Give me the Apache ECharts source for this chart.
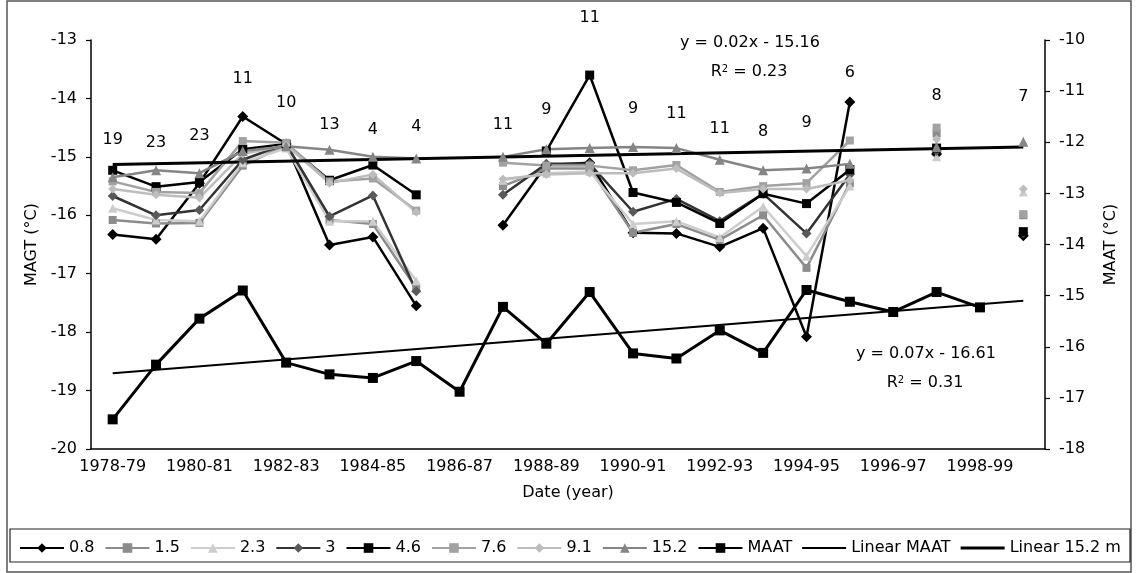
<!DOCTYPE html>
<html>
<head>
<meta charset="utf-8">
<script src="https://cdn.jsdelivr.net/npm/echarts@6/dist/echarts.min.js"></script>
<style>html,body{margin:0;padding:0;background:#fff}#c{width:1138px;height:573px}</style>
</head>
<body>
<div id="c"></div>
<script>
const categories = ['1978-79','1979-80','1980-81','1981-82','1982-83','1983-84','1984-85','1985-86','1986-87','1987-88','1988-89','1989-90','1990-91','1991-92','1992-93','1993-94','1994-95','1995-96','1996-97','1997-98','1998-99','1999-00'];

const d08  = [-16.33,-16.41,-15.45,-14.31,-14.78,-16.51,-16.37,-17.55,null,-16.17,-15.14,-15.10,-16.30,-16.31,-16.54,-16.22,-18.08,-14.06,null,-14.95,null,-16.35];
const d15  = [-16.08,-16.14,-16.13,-15.15,-14.80,-16.08,-16.15,-17.25,null,-15.50,-15.20,-15.20,-16.30,-16.15,-16.42,-16.00,-16.90,-15.45,null,-14.60,null,-16.00];
const d23  = [-15.88,-16.08,-16.10,-15.10,-14.85,-16.10,-16.10,-17.12,null,-15.40,-15.28,-15.25,-16.15,-16.10,-16.38,-15.85,-16.70,-15.50,null,-15.00,null,-15.60];
const d30  = [-15.67,-16.00,-15.91,-15.05,-14.78,-16.02,-15.66,-17.30,null,-15.65,-15.12,-15.12,-15.94,-15.72,-16.10,-15.63,-16.31,-15.30,null,-14.90,null,-16.30];
const d46  = [-15.23,-15.51,-15.43,-14.87,-14.78,-15.40,-15.14,-15.65,null,null,-14.90,-13.60,-15.61,-15.78,-16.14,-15.63,-15.80,-15.22,null,-14.85,null,-16.28];
const d76  = [-15.42,-15.60,-15.62,-14.73,-14.76,-15.42,-15.37,-15.92,null,-15.10,-15.15,-15.15,-15.23,-15.14,-15.60,-15.50,-15.45,-14.72,null,-14.50,null,-15.98];
const d91  = [-15.55,-15.65,-15.70,-14.95,-14.80,-15.45,-15.30,-15.95,null,-15.38,-15.30,-15.28,-15.28,-15.20,-15.62,-15.55,-15.55,-15.40,null,-14.70,null,-15.55];
const d152 = [-15.35,-15.23,-15.28,-14.90,-14.82,-14.88,-15.00,-15.03,null,-15.00,-14.87,-14.85,-14.83,-14.85,-15.05,-15.23,-15.20,-15.12,null,-14.83,null,-14.74];

const maat = [-17.42,-16.35,-15.45,-14.90,-16.31,-16.54,-16.61,-16.28,-16.88,-15.22,-15.94,-14.93,-16.13,-16.23,-15.68,-16.12,-14.89,-15.12,-15.32,-14.93,-15.23,null];

const linearMAAT = [[0,-16.52],[21,-15.10]];
const linear152 = [[0,-15.13],[21,-14.83]];

const nBoreholes = [19,23,23,11,10,13,4,4,null,11,9,11,9,11,11,8,9,6,null,8,null,7];
const nLabelLevel = [-14.71,-14.76,-14.64,-13.67,-14.08,-14.46,-14.54,-14.49,null,-14.46,-14.20,-12.62,-14.18,-14.27,-14.52,-14.57,-14.42,-13.57,null,-13.95,null,-13.98];

const leftTicks = {min:-20,max:-13,interval:1};
const rightTicks = {min:-18,max:-10,interval:1};

const FONT = 'DejaVu Sans';

function depth(name, data, color, symbol, size, lineColor) {
  return {
    name, type:'line', data, yAxisIndex:0, symbol, symbolSize:size,
    connectNulls:false,
    lineStyle:{color: lineColor || color, width:2.5},
    itemStyle:{color, borderWidth:0},
    emphasis:{disabled:true}, animation:false
  };
}

const labelData = [];
nBoreholes.forEach((n,i)=>{ if(n!==null) labelData.push({value:[i,nLabelLevel[i]], n}); });

const lineIcon = 'path://M0,0 L44,0 L44,2 L0,2 Z';
const thickIcon = 'path://M0,0 L44,0 L44,3 L0,3 Z';

const chart = echarts.init(document.getElementById('c'), null, {renderer:'canvas'});
chart.setOption({
  animation:false,
  backgroundColor:'#fff',
  textStyle:{fontFamily:FONT},
  grid:{left:91,right:93,top:40,bottom:124},
  legend:{
    left:14, top:535, itemWidth:44, itemHeight:12, itemGap:10,
    textStyle:{fontFamily:FONT,fontSize:16,color:'#000'},
    data:['0.8','1.5','2.3','3','4.6','7.6','9.1','15.2','MAAT',
          {name:'Linear MAAT', icon:lineIcon},
          {name:'Linear 15.2 m', icon:thickIcon}]
  },
  xAxis:{
    type:'category', data:categories, boundaryGap:true,
    name:'Date (year)', nameLocation:'middle', nameGap:36,
    nameTextStyle:{fontFamily:FONT,fontSize:16,color:'#000'},
    axisLine:{lineStyle:{color:'#000',width:1.5}},
    axisTick:{interval:1,length:6,lineStyle:{color:'#000',width:1.2}},
    axisLabel:{interval:1,fontFamily:FONT,fontSize:16,color:'#000',margin:10},
    splitLine:{show:false}
  },
  yAxis:[{
    type:'value', ...leftTicks,
    name:'MAGT (°C)', nameLocation:'middle', nameGap:50, nameRotate:90,
    nameTextStyle:{fontFamily:FONT,fontSize:16,color:'#000'},
    axisLine:{show:true,lineStyle:{color:'#000',width:1.5}},
    axisTick:{show:true,length:5,lineStyle:{color:'#000',width:1.2}},
    axisLabel:{fontFamily:FONT,fontSize:16,color:'#000',margin:14},
    splitLine:{show:false}
  },{
    type:'value', ...rightTicks, position:'right',
    name:'MAAT (°C)', nameLocation:'middle', nameGap:58, nameRotate:90,
    nameTextStyle:{fontFamily:FONT,fontSize:16,color:'#000'},
    axisLine:{show:true,lineStyle:{color:'#000',width:1.5}},
    axisTick:{show:true,length:5,lineStyle:{color:'#000',width:1.2}},
    axisLabel:{fontFamily:FONT,fontSize:16,color:'#000',margin:14},
    splitLine:{show:false}
  }],
  graphic:[
    {type:'rect', shape:{x:7,y:1,width:1124,height:571}, style:{fill:'none',stroke:'#555',lineWidth:1.5}, z:-10},
    {type:'rect', shape:{x:10,y:529,width:1120,height:33}, style:{fill:'none',stroke:'#222',lineWidth:1.2}, z:-5},
    {type:'text', x:750, y:35, style:{text:'y = 0.02x - 15.16', font:'16px "DejaVu Sans"', fill:'#000', textAlign:'center'}},
    {type:'text', x:749, y:64, style:{text:'{a|R}{s|2}{a| = 0.23}', fill:'#000', textAlign:'center', rich:{a:{fontFamily:FONT,fontSize:16,verticalAlign:'bottom'},s:{fontFamily:FONT,fontSize:10,verticalAlign:'top'}}}},
    {type:'text', x:926, y:346, style:{text:'y = 0.07x - 16.61', font:'16px "DejaVu Sans"', fill:'#000', textAlign:'center'}},
    {type:'text', x:925, y:375, style:{text:'{a|R}{s|2}{a| = 0.31}', fill:'#000', textAlign:'center', rich:{a:{fontFamily:FONT,fontSize:16,verticalAlign:'bottom'},s:{fontFamily:FONT,fontSize:10,verticalAlign:'top'}}}}
  ],
  series:[
    depth('0.8', d08, '#000000', 'diamond', 11),
    depth('1.5', d15, '#8c8c8c', 'rect', 8),
    depth('2.3', d23, '#cdcdcd', 'triangle', 9),
    depth('3', d30, '#5a5a5a', 'diamond', 10, '#333333'),
    depth('4.6', d46, '#000000', 'rect', 9),
    depth('7.6', d76, '#a2a2a2', 'rect', 8),
    depth('9.1', d91, '#bdbdbd', 'diamond', 9),
    depth('15.2', d152, '#858585', 'triangle', 10),
    {name:'MAAT', type:'line', data:maat, yAxisIndex:1, symbol:'rect', symbolSize:10,
     lineStyle:{color:'#000',width:3}, itemStyle:{color:'#000'}, emphasis:{disabled:true}},
    {name:'Linear MAAT', type:'line', data:linearMAAT, yAxisIndex:1, symbol:'none',
     lineStyle:{color:'#000',width:2}, itemStyle:{color:'#000'}, emphasis:{disabled:true}},
    {name:'Linear 15.2 m', type:'line', data:linear152, yAxisIndex:0, symbol:'none',
     lineStyle:{color:'#000',width:3}, itemStyle:{color:'#000'}, emphasis:{disabled:true}},
    {name:'counts', type:'scatter', yAxisIndex:0, data:labelData, symbolSize:1, clip:false, z:10,
     itemStyle:{color:'#fff', opacity:0}, silent:true,
     label:{show:true, position:'inside', fontFamily:FONT, fontSize:16, color:'#000', opacity:1,
            textBorderWidth:0, formatter:p=>String(p.data.n)}}
  ]
});
</script>
</body>
</html>
